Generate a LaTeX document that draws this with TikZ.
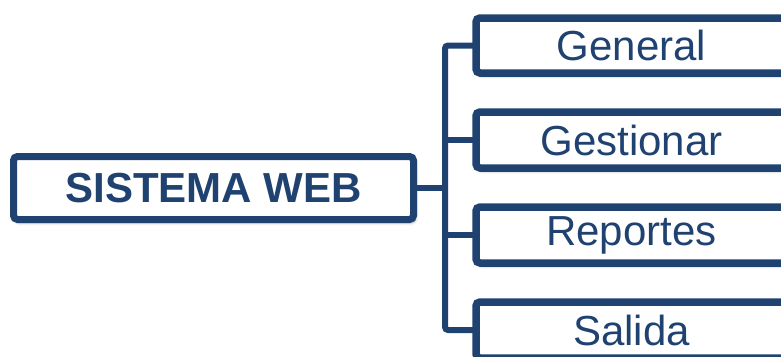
\documentclass[tikz,border=0pt]{standalone}
\usepackage{fontspec}
\setmainfont{Liberation Sans}
\usetikzlibrary{shadows.blur}
\definecolor{navy}{HTML}{1F4271}
\begin{document}
\begin{tikzpicture}[x=1pt,y=-1pt,
  box/.style={draw=navy, fill=white, line width=7.5pt, rounded corners=4pt,
    outer sep=0pt, inner sep=0pt, text=navy, font=\fontsize{42}{42}\selectfont,
    blur shadow={shadow xshift=2pt, shadow yshift=-3pt, shadow blur radius=3pt, shadow opacity=40}},
  link/.style={draw=navy, line width=6pt, rounded corners=3pt}]
  \useasboundingbox (0,0) rectangle (781,356);
  \clip (0,0) rectangle (781,356);
  % root and its four branches
  \node[box, line width=7pt, minimum width=400pt, minimum height=63pt, font=\fontsize{42}{42}\selectfont\bfseries]
    (root) at (213.5,188) {SISTEMA WEB};
  \node[box, minimum width=311pt, minimum height=55pt] (gen) at (631.5,45.5) {General};
  \node[box, minimum width=311pt, minimum height=56pt] (ges) at (631.5,140) {Gestionar};
  \node[box, minimum width=311pt, minimum height=56pt] (rep) at (631.5,235) {Reportes};
  \node[box, minimum width=311pt, minimum height=56pt] (sal) at (631.5,330) {Salida};
  % bracket connectors
  \coordinate (bus) at (445,188);
  \draw[link] (root.east) -- (bus);
  \draw[link] (gen.west) -- (gen.west -| bus) -- (sal.west -| bus) -- (sal.west);
  \draw[link] (ges.west) -- (ges.west -| bus);
  \draw[link] (rep.west) -- (rep.west -| bus);
\end{tikzpicture}
\end{document}
